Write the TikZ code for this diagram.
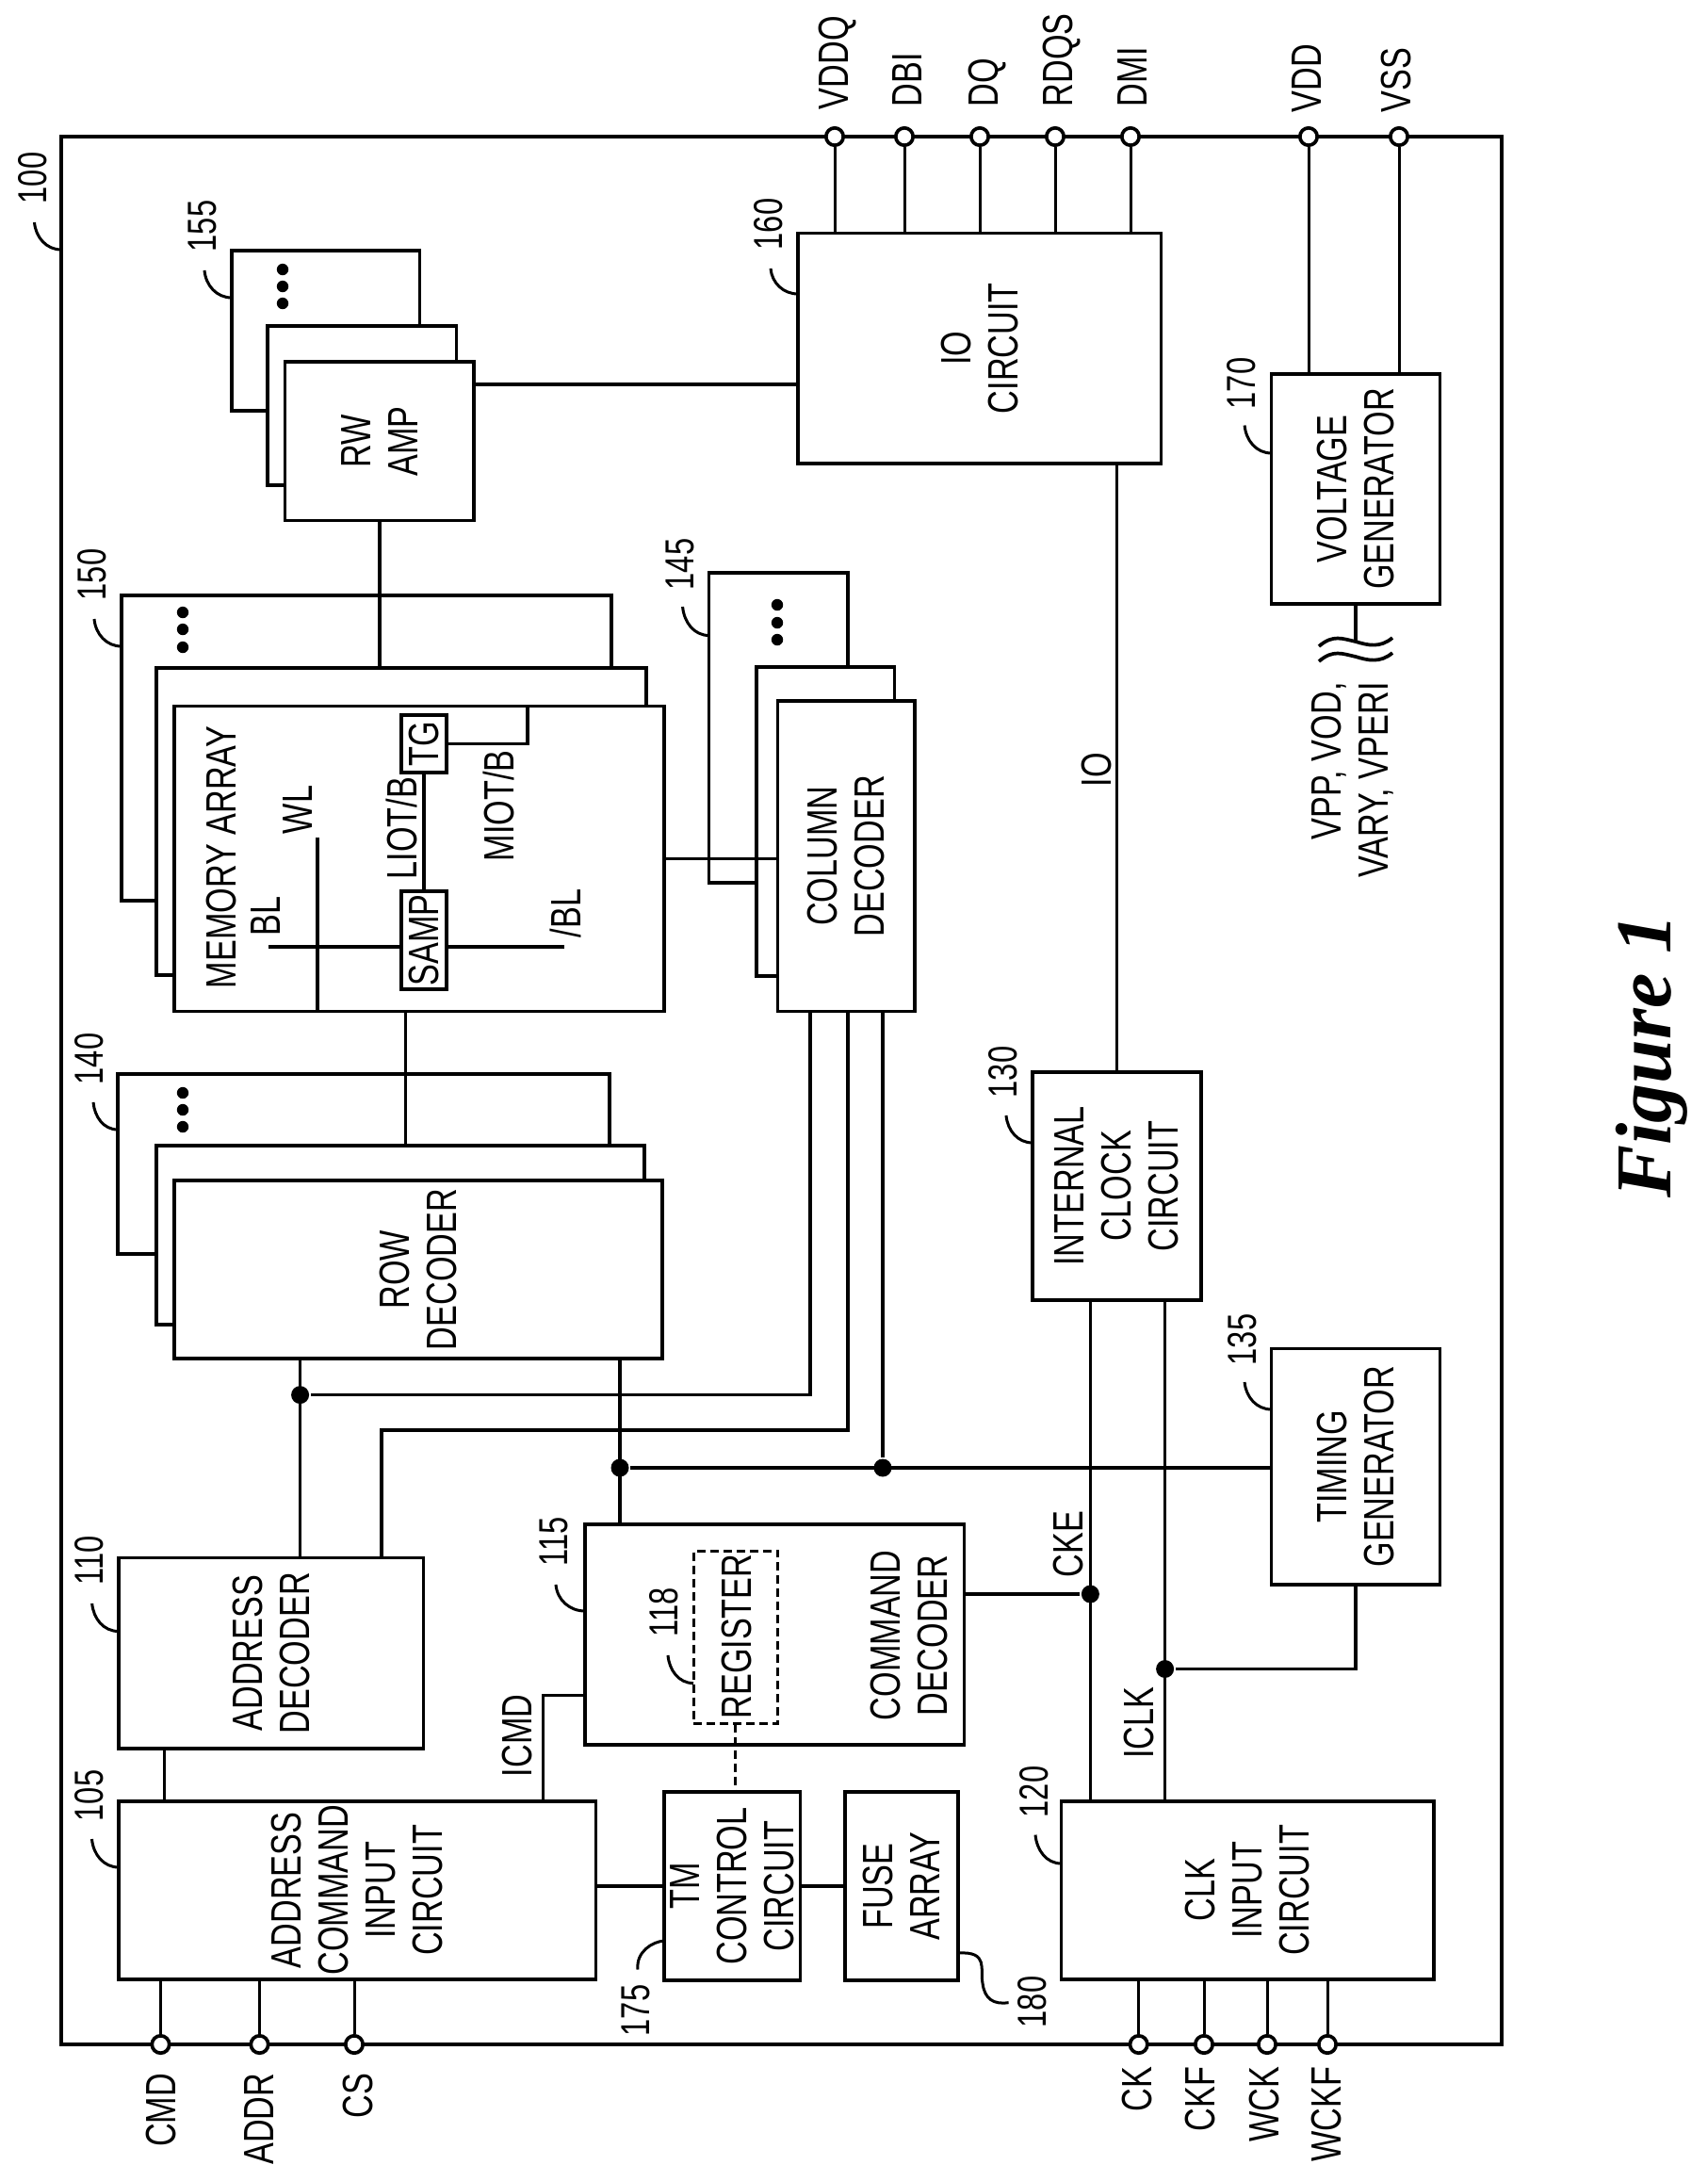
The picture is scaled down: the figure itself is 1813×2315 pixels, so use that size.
\documentclass[tikz,border=0pt]{standalone}
\usepackage{fontspec}
\setmainfont{Liberation Sans}[FakeStretch=0.76]
\newfontfamily\figfont{Liberation Serif}
\tikzset{
  blk/.style 2 args={draw, fill=white, inner sep=0pt, outer sep=0pt,
    minimum width=#1*0.5pt, minimum height=#2*0.5pt},
  txt/.style={rotate=90, align=center, inner sep=0pt, font=\fontsize{22.5}{25}\selectfont},
  lbl/.style={rotate=90, anchor=west, inner sep=0pt, text depth=0pt, font=\fontsize{22.5}{25}\selectfont},
  lblb/.style={lbl, anchor=east},
  num/.style={rotate=90, inner sep=0pt, font=\fontsize{21.5}{25}\selectfont},
  lead/.style={line width=1.5pt, out=180, in=-85},
  pin/.style={circle, draw, fill=white, inner sep=0pt, minimum size=9.2pt},
  wire/.style={line width=1.5pt},
  jct/.style={circle, fill=black, inner sep=0pt, minimum size=9.5pt},
  dot/.style={circle, fill=black, inner sep=0pt, minimum size=6.2pt}
}
\begin{document}
\begin{tikzpicture}[x=0.5pt, y=-0.5pt, line width=1.85pt]
  \useasboundingbox (0,0) rectangle (1813,2315);
  \node[blk={1529}{2025}] (chip) at (829.5,1157.5) {};

  % stacked blocks, back to front
  \node[blk={199.5}{170}] (rwb) at (345.75,351) {};
  \node[blk={200.5}{169}] (rwm) at (384.25,430.5) {};
  \node[blk={200.5}{168.5}] (rw) at (402.75,468.25) {};
  \node[blk={385.5}{244.5}] (io) at (1039.75,369.75) {};
  \draw (rw.east |- 0,408) -- (io.west |- 0,408);
  \node[blk={520}{324}] (arb) at (389,794) {};
  \node[blk={520}{326}] (arm) at (426,872) {};
  \draw (rw.south) -- (rw.south |- arm.north);
  \node[blk={520}{324}] (arr) at (445,911.5) {};
  \node[blk={147.4}{329}] (colb) at (826.3,772.5) {};
  \node[blk={146.5}{328}] (colm) at (876.25,872) {};
  \draw (arr.east) -- (825.5,0 |- arr.east);
  \node[blk={145.5}{329.5}] (col) at (898.25,908.75) {};
  \node[blk={522}{191}] (rowb) at (386,1235.5) {};
  \node[blk={518}{190}] (rowm) at (425,1311) {};
  \draw (430.5,0 |- arr.south) -- (430.5,0 |- rowm.north);
  \node[blk={518}{189}] (row) at (444,1347.5) {};

  \node[blk={323.8}{202.6}] (adr) at (287.6,1754.7) {};
  \node[blk={506.6}{188.7}] (aci) at (379.3,2006.35) {};
  \node[blk={402.5}{234}] (cmd) at (822.25,1735) {};
  \node[blk={144.6}{200}] (tm) at (777.3,2002) {};
  \node[blk={120}{200}] (fuse) at (957,2002) {};
  \node[blk={395.4}{188.7}] (clk) at (1324.3,2006.35) {};
  \node[blk={179}{242}] (icc) at (1185.5,1259) {};
  \node[blk={178.8}{250.4}] (tg) at (1439,1556.8) {};
  \node[blk={178.8}{244}] (vg) at (1439,519) {};
  \node[blk={89.5}{183.5}, dash pattern=on 4.5pt off 2.5pt, line width=1.5pt] (reg) at (780.75,1737.75) {};

  % inside the memory array
  \node[blk={48}{61}] (tgb) at (450,789.5) {};
  \node[blk={48}{104}] (samp) at (450,998) {};
  \coordinate (bl) at (285,1005);
  \coordinate (nbl) at (599,1005);
  \coordinate (wl) at (337,889);
  \draw (bl) -- (samp.west |- bl);
  \draw (samp.east |- bl) -- (nbl);
  \draw (wl) -- (wl |- arr.south);
  \draw (tgb) -- (samp);
  \draw (tgb.east) -| (560,0 |- arr.north);

  % junctions and wires
  \node[jct] (j1) at (318.6,1480.6) {};
  \node[jct] (j2) at (658,1558) {};
  \node[jct] (j3) at (937,1558) {};
  \node[jct] (j4) at (1157.4,1692) {};
  \node[jct] (j5) at (1236.6,1771.5) {};
  \coordinate (c1) at (405,1518);
  \draw (860,0 |- col.south) |- (j1);
  \draw (900,0 |- col.south) |- (c1) -- (c1 |- adr.north);
  \draw (j3 |- col.south) -- (j3);
  \draw (j1 |- row.south) -- (j1 |- adr.north);
  \draw (j2 |- row.south) -- (j2 |- cmd.north);
  \draw (j2) -- (j2 -| tg.west);
  \draw[wire] (174.5,0 |- adr.south) -- (174.5,0 |- aci.north);
  \draw[wire] (576,0 |- aci.north) |- (cmd.west |- 0,1799);
  \draw (aci.east |- tm) -- (tm.west);
  \draw (tm) -- (fuse);
  \draw[dash pattern=on 4.5pt off 2.5pt, line width=1.5pt] (reg.south) -- (reg.south |- tm.north);
  \draw (cmd.east |- j4) -- (j4);
  \draw (tg.south) |- (j5);
  \draw[wire] (j4 |- icc.south) -- (j4 |- clk.north);
  \draw (j5 |- icc.south) -- (j5 |- clk.north);
  \draw[wire] (icc.north) -- (icc.north |- io.south);

  % break below the voltage generator
  \coordinate (brk) at (1439,681);
  \draw (vg.south) -- (brk);
  \draw (1400,686) .. controls (1415,673) and (1425,678) .. (1439,681) .. controls (1452,685) and (1465,688) .. (1478,677);
  \draw (1400,702) .. controls (1415,689) and (1425,694) .. (1439,697) .. controls (1452,701) and (1465,704) .. (1478,693);

  % pins
  \begin{scope}[every node/.style={pin}]
    \node (pvddq) at (886,145) {}; \node (pdbi) at (960,145) {};
    \node (pdq) at (1040,145) {}; \node (prdqs) at (1120,145) {};
    \node (pdmi) at (1200,145) {}; \node (pvdd) at (1389,145) {};
    \node (pvss) at (1485,145) {}; \node (pcmd) at (170.5,2170) {};
    \node (paddr) at (275.5,2170) {}; \node (pcs) at (376,2170) {};
    \node (pck) at (1208.7,2170) {}; \node (pckf) at (1278,2170) {};
    \node (pwck) at (1345,2170) {}; \node (pwckf) at (1409,2170) {};
  \end{scope}
  \begin{scope}[wire]
    \draw (pvddq) -- (pvddq |- io.north); \draw (pdbi) -- (pdbi |- io.north);
    \draw (pdq) -- (pdq |- io.north); \draw (prdqs) -- (prdqs |- io.north);
    \draw (pdmi) -- (pdmi |- io.north); \draw (pvdd) -- (pvdd |- vg.north);
    \draw (pvss) -- (pvss |- vg.north); \draw (pcmd) -- (pcmd |- aci.south);
    \draw (paddr) -- (paddr |- aci.south); \draw (pcs) -- (pcs |- aci.south);
    \draw (pck) -- (pck |- clk.south); \draw (pckf) -- (pckf |- clk.south);
    \draw (pwck) -- (pwck |- clk.south); \draw (pwckf) -- (pwckf |- clk.south);
  \end{scope}

  % pin labels
  \node[lbl] (lvddq) at (885,118) {VDDQ};
  \node[lbl] (ldbi) at (963,115) {DBI};
  \node[lbl] (ldq) at (1044,115) {DQ};
  \node[lbl] (lrdqs) at (1123,115) {RDQS};
  \node[lbl] (ldmi) at (1202,115) {DMI};
  \node[lbl] (lvdd) at (1387,121) {VDD};
  \node[lbl] (lvss) at (1482,121) {VSS};
  \node[lblb] (lcmd) at (171,2199) {CMD};
  \node[lblb] (laddr) at (275.5,2199) {ADDR};
  \node[lblb] (lcs) at (380,2199) {CS};
  \node[lblb] (lck) at (1207,2192) {CK};
  \node[lblb] (lckf) at (1274,2192) {CKF};
  \node[lblb] (lwck) at (1341.5,2192) {WCK};
  \node[lblb] (lwckf) at (1408,2192) {WCKF};

  % stacks: three dots in the back block
  \node[dot] (d1a) at (300,286) {}; \node[dot] (d1b) at (300,304) {}; \node[dot] (d1c) at (300,322) {};
  \node[dot] (d2a) at (194,650) {}; \node[dot] (d2b) at (194,668) {}; \node[dot] (d2c) at (194,687) {};
  \node[dot] (d3a) at (825,642) {}; \node[dot] (d3b) at (825,661) {}; \node[dot] (d3c) at (825,679) {};
  \node[dot] (d4a) at (194,1160) {}; \node[dot] (d4b) at (194,1178) {}; \node[dot] (d4c) at (194,1196) {};

  % block texts
  \node[txt] (trw) at (rw) {RW\\AMP};
  \node[txt] (tio) at (io) {IO\\CIRCUIT};
  \node[txt] (tcol) at (col) {COLUMN\\DECODER};
  \node[txt] (trow) at (row) {ROW\\DECODER};
  \node[txt] (tadr) at (adr) {ADDRESS\\DECODER};
  \node[txt] (taci) at (aci) {ADDRESS\\COMMAND\\INPUT\\CIRCUIT};
  \node[txt] (ttm) at (tm) {TM\\CONTROL\\CIRCUIT};
  \node[txt] (tfuse) at (fuse) {FUSE\\ARRAY};
  \node[txt] (tclk) at (clk) {CLK\\INPUT\\CIRCUIT};
  \node[txt] (ticc) at (icc) {INTERNAL\\CLOCK\\CIRCUIT};
  \node[txt] (ttg) at (tg) {TIMING\\GENERATOR};
  \node[txt] (tvg) at (vg) {VOLTAGE\\GENERATOR};
  \node[txt] (treg) at (782,1737) {REGISTER};
  \node[txt] (tcmd) at (964.5,1736) {COMMAND\\DECODER};
  \node[txt] (tsamp) at (samp) {SAMP};
  \node[txt] (ttgb) at (tgb) {TG};
  \node[lbl] (tmem) at (235,1051) {MEMORY ARRAY};
  \node[lbl] (tbl) at (282,995) {BL};
  \node[lbl] (twl) at (316,887) {WL};
  \node[lbl] (tliot) at (426.5,935) {LIOT/B};
  \node[lbl] (tmiot) at (529,916) {MIOT/B};
  \node[lbl] (tnbl) at (600,997) {/BL};
  \node[lbl] (tiol) at (1164,837) {IO};
  \node[lbl] (ticmd) at (549,1888) {ICMD};
  \node[lbl] (tcke) at (1134,1676) {CKE};
  \node[lbl] (ticlk) at (1208.7,1868.5) {ICLK};
  \node[txt, align=right] (tvpp) at (1435.5,828) {VPP, VOD,\\VARY, VPERI};

  % reference numbers
  \node[num] (n100) at (34.5,189) {100};
  \node[num] (n155) at (215,240) {155};
  \node[num] (n160) at (816,238) {160};
  \node[num] (n150) at (97.6,610) {150};
  \node[num] (n145) at (722,599) {145};
  \node[num] (n170) at (1318,407) {170};
  \node[num] (n140) at (95,1124) {140};
  \node[num] (n130) at (1065,1138) {130};
  \node[num] (n135) at (1319,1422) {135};
  \node[num] (n110) at (95,1656) {110};
  \node[num] (n105) at (95,1906) {105};
  \node[num] (n115) at (588,1636) {115};
  \node[num] (n118) at (705,1711) {118};
  \node[num] (n175) at (674.5,2134) {175};
  \node[num] (n180) at (1096,2125) {180};
  \node[num] (n120) at (1098,1902) {120};
  \draw[lead] (chip.west |- 0,265) to ++(-28.5,-29);
  \draw[lead] (rwb.west |- 0,316) to ++(-29,-29);
  \draw[lead] (io.west |- 0,312) to ++(-29,-27);
  \draw[lead] (arb.west |- 0,686) to ++(-29,-29);
  \draw[lead] (colb.west |- 0,674.5) to ++(-28,-30.5);
  \draw[lead] (vg.west |- 0,481) to ++(-28.5,-29.5);
  \draw[lead] (rowb.west |- 0,1199) to ++(-26,-29);
  \draw[lead] (icc.west |- 0,1213) to ++(-28,-29);
  \draw[lead] (tg.west |- 0,1496) to ++(-28.5,-29);
  \draw[lead] (adr.west |- 0,1731.5) to ++(-28,-29.5);
  \draw[lead] (aci.west |- 0,1982) to ++(-28.5,-30);
  \draw[lead] (cmd.west |- 0,1710) to ++(-31,-28);
  \draw[lead] (reg.west |- 0,1786.6) to ++(-27,-29.6);
  \draw[line width=1.5pt] (tm.west |- 0,2060) .. controls (692,2061) and (675,2072) .. (677,2090.5);
  \draw[line width=1.5pt] (fuse.east |- 0,2073) .. controls (1050,2071) and (1040,2090) .. (1043,2105) .. controls (1045,2122) and (1055,2128) .. (1070.6,2125.6);
  \draw[lead] (clk.west |- 0,1978) to (1099,1947.6);

  \node[rotate=90, inner sep=0pt, font=\fontsize{42}{44}\selectfont\figfont\bfseries\itshape] (fig) at (1753,1121) {Figure 1};
\end{tikzpicture}
\end{document}
